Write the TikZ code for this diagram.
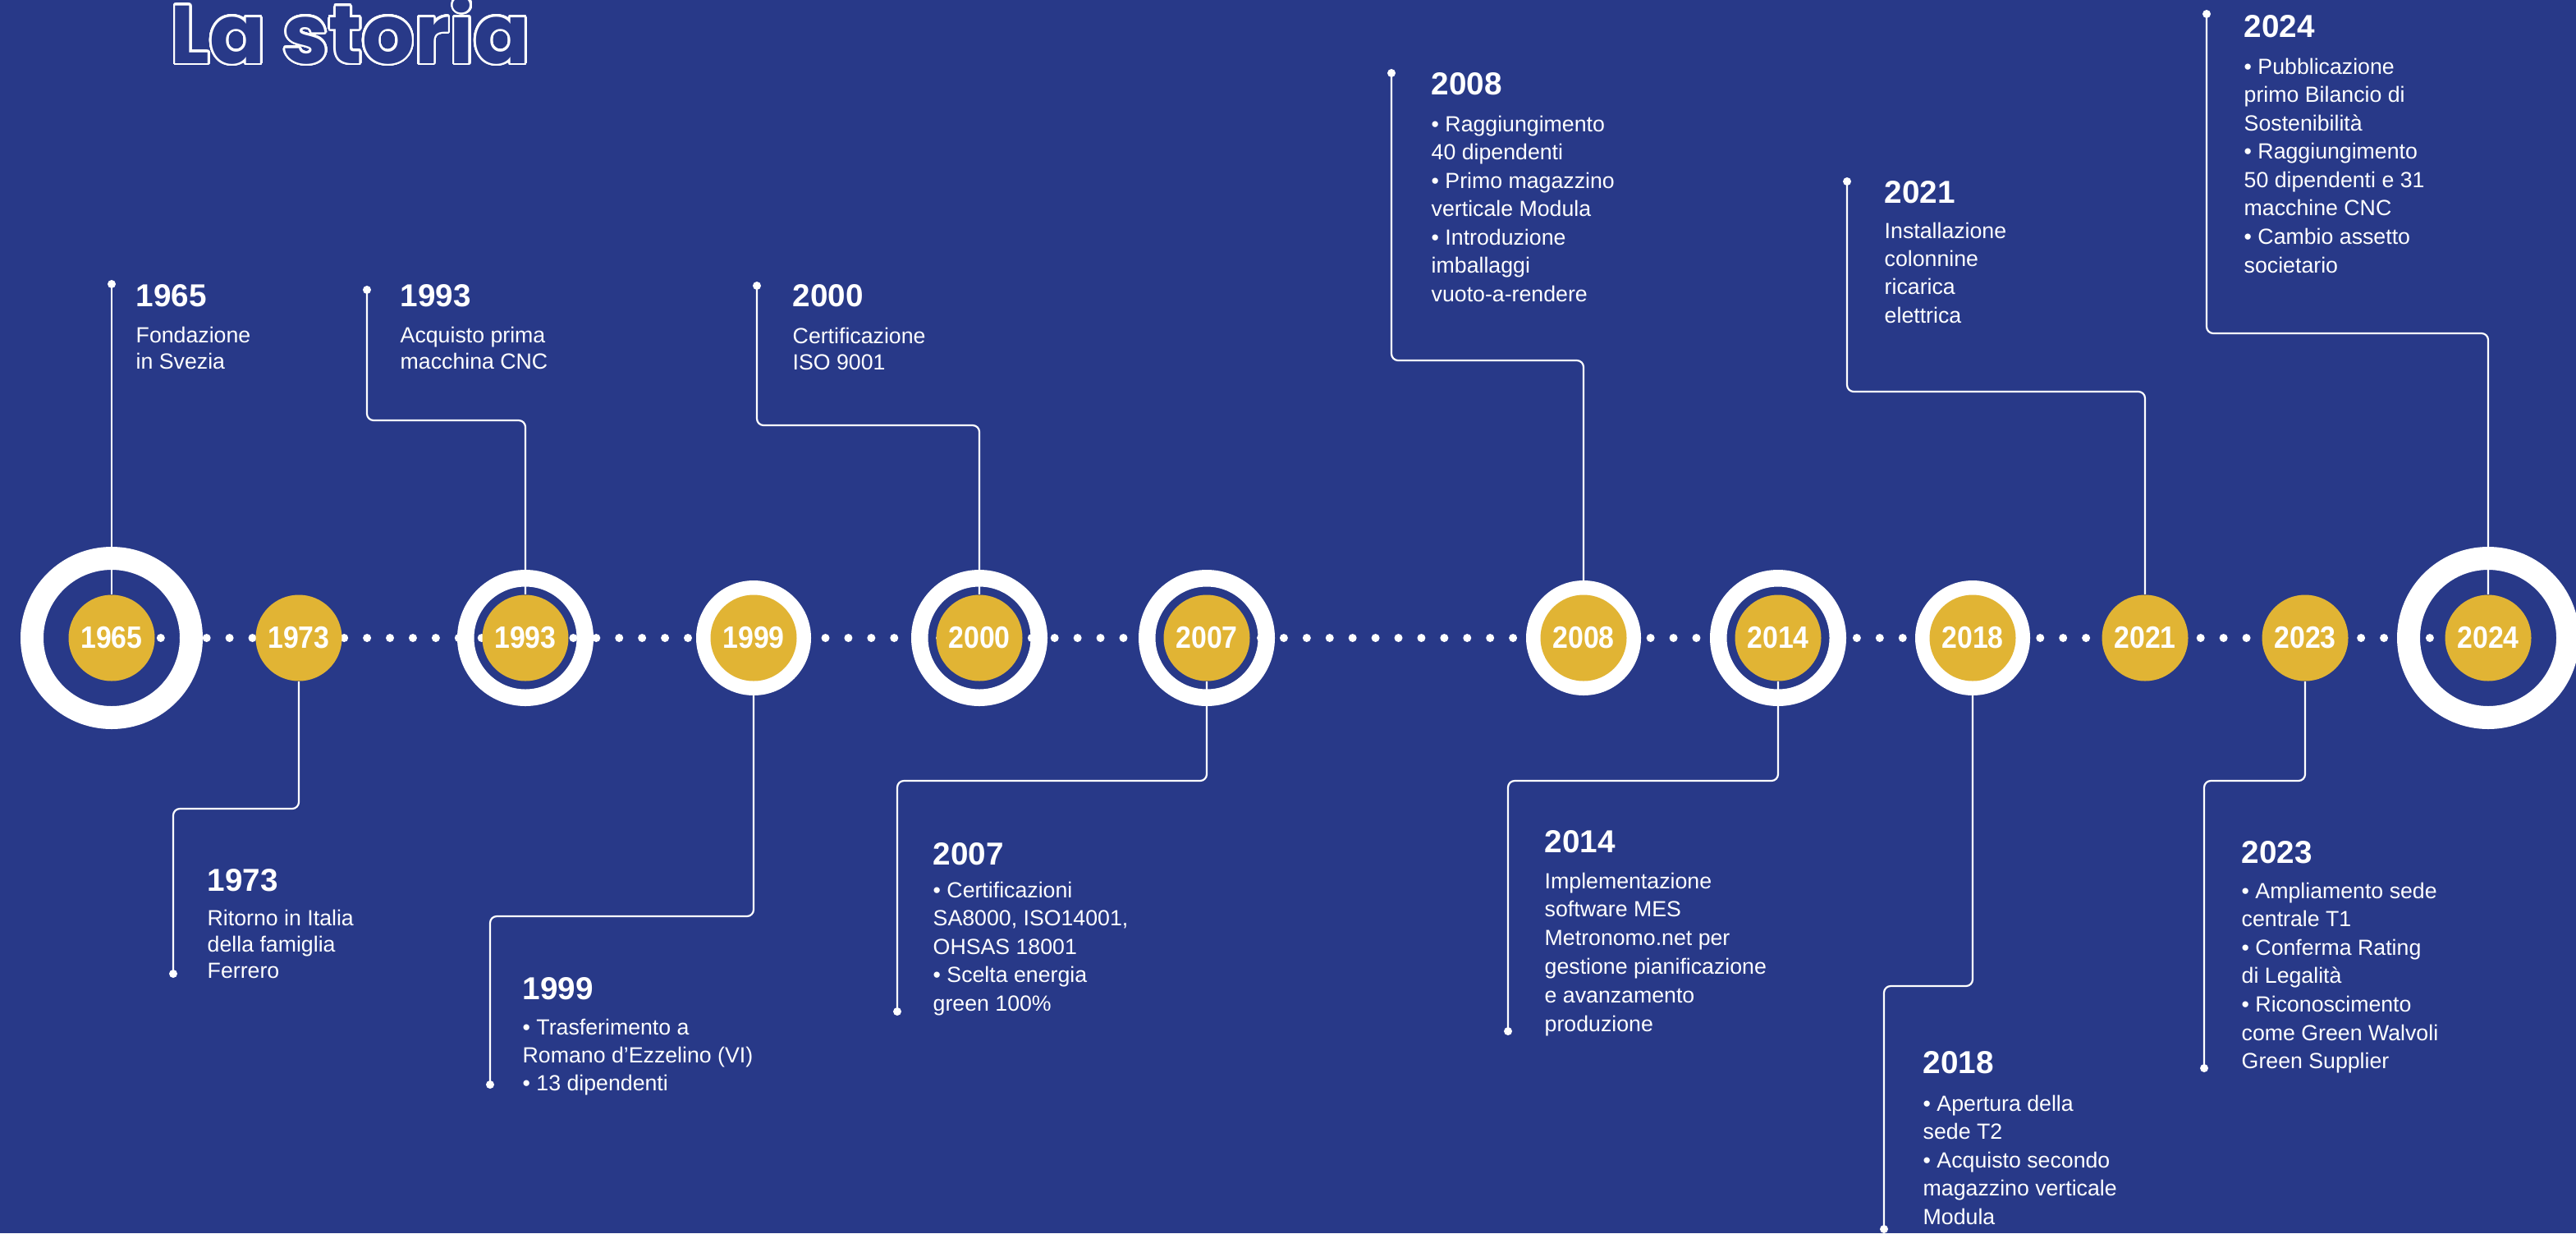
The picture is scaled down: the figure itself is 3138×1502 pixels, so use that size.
\documentclass[tikz,border=0pt]{standalone}
\usepackage{fontspec}
\setmainfont{Liberation Sans}
\newfontfamily\titlefont{Poppins}
\newfontfamily\circfont{Liberation Sans}[FakeStretch=0.9]
\usepackage{contour}
\contourlength{0.75pt}
\contournumber{40}
\definecolor{bgblue}{RGB}{40,57,136}
\definecolor{gold}{RGB}{225,180,52}
\tikzset{
	yearnode/.style={circle,fill=gold,minimum size=10.5mm,inner sep=0pt,text=white,font=\circfont\bfseries\fontsize{10.7}{12}\selectfont},
	bigring/.style={draw=white,line width=2.8mm},
	midring/.style={draw=white,line width=2.05mm},
	disc/.style={fill=white},
	link/.style={draw=white,line width=0.22mm,rounded corners=2.3pt},
	head/.style={anchor=base west,inner sep=0pt,text=white,font=\bfseries\fontsize{11}{13}\selectfont},
	body/.style={anchor=base west,inner sep=0pt,text=white},
}
\begin{document}
\begin{tikzpicture}[x=0.1mm,y=-0.1mm]
	\fill[bgblue] (0,0) rectangle (3138,1502);
	\useasboundingbox (0,0) rectangle (3138,1502);
	\pgfmathsetmacro{\yLine}{777};
	\node[anchor=base west,inner sep=0pt,text=bgblue,font=\titlefont\bfseries\fontsize{28.5}{34}\selectfont] (title) at (207,77) {\contour{white}{La storia}};
	\foreach \yr/\x in {1965/136,1973/364,1993/640,1999/918,2000/1193,2007/1470,2008/1929,2014/2166,2018/2403,2021/2613,2023/2808,2024/3031}
		\coordinate (p\yr) at (\x,\yLine);
	\draw[white,line width=1mm,line cap=round,dash pattern=on 0pt off 2.792mm,dash phase=2.392mm] (p1965) -- (p2024);
	\foreach \yr in {1965,2024}
		\draw[bigring] (p\yr) circle (97);
	\foreach \yr in {1993,2000,2007,2014}
		\draw[midring] (p\yr) circle (72.75);
	\foreach \yr in {1999,2008,2018}
		\fill[disc] (p\yr) circle (70);
	\foreach \yr in {1965,1973,1993,1999,2000,2007,2008,2014,2018,2021,2023,2024}
		\node[yearnode] (c\yr) at (p\yr) {\yr};
	\coordinate (d1965) at (136,346);
	\draw[link] (d1965) -- (c1965.north);
	\fill[white] (d1965) circle (5);
	\foreach \yr/\dx/\dy/\ky in {1993/447/353/512,2000/922/348/518,2008/1695/89/439,2021/2250/221/477,2024/2688/17/406}
	{
		\coordinate (d\yr) at (\dx,\dy);
		\draw[link] (d\yr) -- (d\yr |- 0,\ky) -- (c\yr |- 0,\ky) -- (c\yr.north);
		\fill[white] (d\yr) circle (5);
	}
	\foreach \yr/\dx/\dy/\ky in {1973/211/1186/985,1999/597/1321/1116,2007/1093/1232/951,2014/1837/1256/951,2018/2295/1497/1201,2023/2685/1301/951}
	{
		\coordinate (d\yr) at (\dx,\dy);
		\draw[link] (c\yr.south) -- (c\yr |- 0,\ky) -- (d\yr |- 0,\ky) -- (d\yr);
		\fill[white] (d\yr) circle (5);
	}
	\foreach \yr/\x/\hy/\by/\ls/\txt in {
		1965/165/373/417/32/{Fondazione\\in Svezia},
		1993/487/373/417/32/{Acquisto prima\\macchina CNC},
		2000/965/373/418/32/{Certificazione\\ISO 9001},
		1973/252/1085/1127/32/{Ritorno in Italia\\della famiglia\\Ferrero},
		1999/636/1217/1260/34/{• Trasferimento a\\Romano d’Ezzelino (VI)\\• 13 dipendenti},
		2007/1136/1053/1093/34.6/{• Certificazioni\\SA8000, ISO14001,\\OHSAS 18001\\• Scelta energia\\green 100\%},
		2008/1743/115/160/34.6/{• Raggiungimento\\40 dipendenti\\• Primo magazzino\\verticale Modula\\• Introduzione\\imballaggi\\vuoto-a-rendere},
		2014/1881/1038/1082/34.8/{Implementazione\\software MES\\Metronomo.net per\\gestione pianificazione\\e avanzamento\\produzione},
		2018/2342/1307/1353/34.6/{• Apertura della\\sede T2\\• Acquisto secondo\\magazzino verticale\\Modula},
		2021/2295/247/290/34.4/{Installazione\\colonnine\\ricarica\\elettrica},
		2023/2730/1051/1094/34.6/{• Ampliamento sede\\centrale T1\\• Conferma Rating\\di Legalità\\• Riconoscimento\\come Green Walvoli\\Green Supplier},
		2024/2733/45/90/34.6/{• Pubblicazione\\primo Bilancio di\\Sostenibilità\\• Raggiungimento\\50 dipendenti e 31\\macchine CNC\\• Cambio assetto\\societario}}
	{
		\pgfmathsetmacro{\lsk}{\ls*0.2845}
		\node[head] (h\yr) at (\x,\hy) {\yr};
		\node[body,font=\fontsize{7.6}{\lsk}\selectfont] (b\yr) at (\x,\by) {\begin{tabular}[t]{@{}l@{}}\txt\end{tabular}};
	}
\end{tikzpicture}
\end{document}
